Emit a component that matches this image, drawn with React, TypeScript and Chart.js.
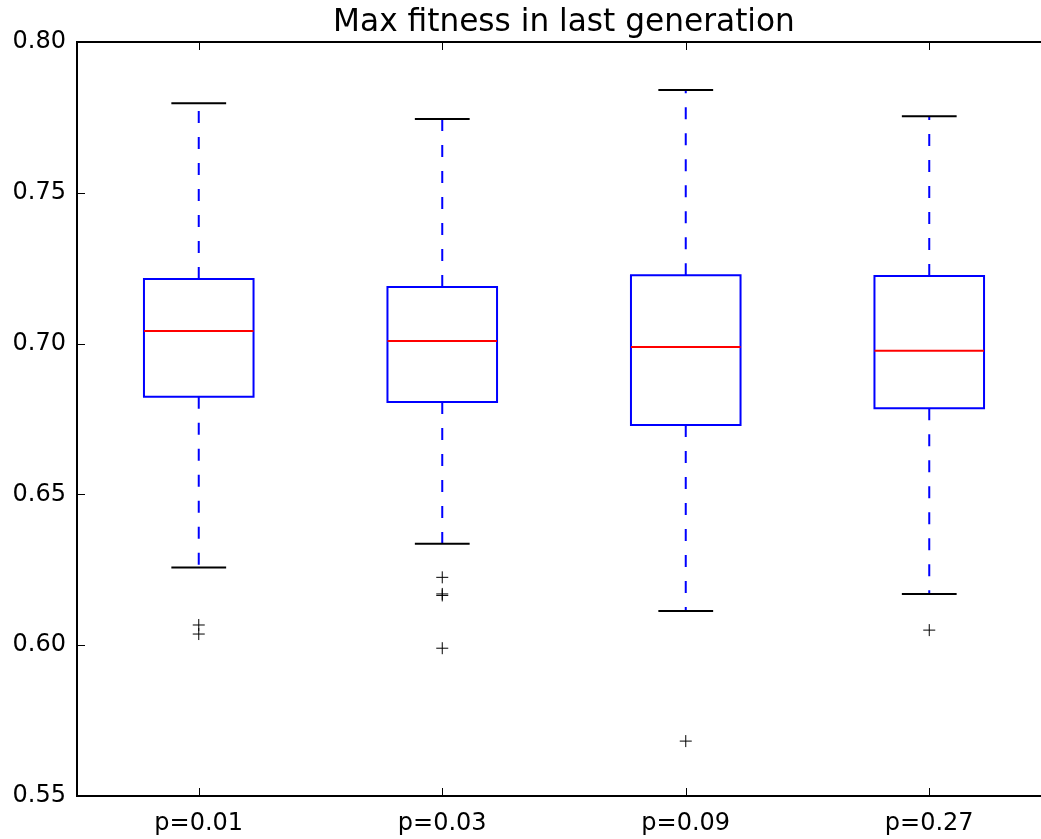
import React, { useEffect, useRef } from "react";
import { Chart, registerables } from "chart.js";

Chart.register(...registerables);

const categories = ["p=0.01", "p=0.03", "p=0.09", "p=0.27"];
const whiskerHigh = [0.7797, 0.7745, 0.7841, 0.7754];
const q3Values = [0.7214, 0.7188, 0.7227, 0.7224];
const medians = [0.7042, 0.7009, 0.6989, 0.6976];
const q1Values = [0.6824, 0.6806, 0.673, 0.6786];
const whiskerLow = [0.6258, 0.6336, 0.6113, 0.617];
const outliers = [
  [0.6067, 0.6037],
  [0.6225, 0.617, 0.6165, 0.599],
  [0.5682],
  [0.605],
];
const yTicks = [0.55, 0.6, 0.65, 0.7, 0.75, 0.8];
const titleText = "Max fitness in last generation";

const FONT = "'DejaVu Sans', 'Liberation Sans', sans-serif";
const BOX_WIDTH = 0.45;

const boxPlugin = {
  id: "boxPlugin",
  beforeDatasetsDraw(chart: any) {
    const ctx = chart.ctx;
    const xs = chart.scales.x;
    const ys = chart.scales.y;
    ctx.save();
    categories.forEach((_, i) => {
      const pos = i + 1;
      const cx = xs.getPixelForValue(pos);
      const bl = xs.getPixelForValue(pos - BOX_WIDTH / 2);
      const br = xs.getPixelForValue(pos + BOX_WIDTH / 2);
      const cl = xs.getPixelForValue(pos - BOX_WIDTH / 4);
      const cr = xs.getPixelForValue(pos + BOX_WIDTH / 4);
      const yHi = ys.getPixelForValue(whiskerHigh[i]);
      const yQ3 = ys.getPixelForValue(q3Values[i]);
      const yMed = ys.getPixelForValue(medians[i]);
      const yQ1 = ys.getPixelForValue(q1Values[i]);
      const yLo = ys.getPixelForValue(whiskerLow[i]);

      // whiskers (dashed, blue), drawn from box outward
      ctx.strokeStyle = "#0000ff";
      ctx.lineWidth = 2;
      ctx.lineCap = "butt";
      ctx.setLineDash([12, 14]);
      ctx.beginPath();
      ctx.moveTo(cx, yQ3);
      ctx.lineTo(cx, yHi);
      ctx.stroke();
      ctx.beginPath();
      ctx.moveTo(cx, yQ1);
      ctx.lineTo(cx, yLo);
      ctx.stroke();
      ctx.setLineDash([]);

      // caps
      ctx.strokeStyle = "#000000";
      ctx.beginPath();
      ctx.moveTo(cl, yHi);
      ctx.lineTo(cr, yHi);
      ctx.moveTo(cl, yLo);
      ctx.lineTo(cr, yLo);
      ctx.stroke();

      // box
      ctx.strokeStyle = "#0000ff";
      ctx.beginPath();
      ctx.rect(bl, yQ3, br - bl, yQ1 - yQ3);
      ctx.stroke();

      // median
      ctx.strokeStyle = "#ff0000";
      ctx.beginPath();
      ctx.moveTo(bl, yMed);
      ctx.lineTo(br, yMed);
      ctx.stroke();
    });
    ctx.restore();
  },
  afterDraw(chart: any) {
    const ctx = chart.ctx;
    const xs = chart.scales.x;
    const ys = chart.scales.y;
    const left = xs.getPixelForValue(0.5);
    const right = xs.getPixelForValue(4.5);
    const top = ys.getPixelForValue(0.8);
    const bottom = ys.getPixelForValue(0.55);
    ctx.save();
    // ticks (inward)
    ctx.strokeStyle = "#000000";
    ctx.lineWidth = 1;
    ctx.beginPath();
    categories.forEach((_, i) => {
      const x = Math.round(xs.getPixelForValue(i + 1)) + 0.5;
      ctx.moveTo(x, bottom);
      ctx.lineTo(x, bottom - 8);
      ctx.moveTo(x, top);
      ctx.lineTo(x, top + 8);
    });
    yTicks.forEach((v) => {
      const y = Math.round(ys.getPixelForValue(v)) + 0.5;
      ctx.moveTo(left, y);
      ctx.lineTo(left + 8, y);
      ctx.moveTo(right, y);
      ctx.lineTo(right - 8, y);
    });
    ctx.stroke();
    // frame
    ctx.lineWidth = 2;
    ctx.beginPath();
    ctx.rect(left, top, right - left, bottom - top);
    ctx.stroke();
    // title
    ctx.fillStyle = "#000000";
    ctx.font = `31.2px ${FONT}`;
    ctx.textAlign = "center";
    ctx.textBaseline = "alphabetic";
    ctx.fillText(titleText, (left + right) / 2, 31);
    ctx.restore();
  },
};

export default function App() {
  const ref = useRef<HTMLCanvasElement | null>(null);
  useEffect(() => {
    if (!ref.current) return;
    const points: { x: number; y: number }[] = [];
    outliers.forEach((arr, i) => arr.forEach((v) => points.push({ x: i + 1, y: v })));
    const chart = new Chart(ref.current, {
      type: "scatter",
      data: {
        datasets: [
          {
            label: "outliers",
            data: points,
            pointStyle: "cross",
            radius: 6,
            borderColor: "#000000",
            backgroundColor: "#000000",
            borderWidth: 1,
          } as any,
        ],
      },
      options: {
        animation: false,
        responsive: false,
        events: [],
        layout: { padding: { top: 42, right: 0, left: 0, bottom: 0 } },
        plugins: {
          legend: { display: false },
          tooltip: { enabled: false },
          title: { display: false },
        },
        scales: {
          x: {
            type: "linear",
            min: 0.5,
            max: 4.5,
            grid: { display: false },
            border: { display: false },
            afterBuildTicks: (scale: any) => {
              scale.ticks = categories.map((_, i) => ({ value: i + 1 }));
            },
            afterFit: (scale: any) => {
              scale.height = 43;
              scale.paddingLeft = 0;
              scale.paddingRight = 0;
            },
            ticks: {
              autoSkip: false,
              maxRotation: 0,
              padding: 5,
              color: "#000000",
              font: { family: FONT, size: 24 },
              callback: (v: any) => categories[Math.round(Number(v)) - 1] ?? "",
            },
          },
          y: {
            type: "linear",
            min: 0.55,
            max: 0.8,
            grid: { display: false },
            border: { display: false },
            afterBuildTicks: (scale: any) => {
              scale.ticks = yTicks.map((v) => ({ value: v }));
            },
            afterFit: (scale: any) => {
              scale.width = 77;
              scale.paddingTop = 0;
              scale.paddingBottom = 0;
            },
            ticks: {
              padding: 3,
              color: "#000000",
              font: { family: FONT, size: 24 },
              callback: (v: any) => Number(v).toFixed(2),
            },
          },
        },
      },
      plugins: [boxPlugin],
    });
    return () => chart.destroy();
  }, []);
  return (
    <div style={{ position: "absolute", left: 0, top: 0, width: 1041, height: 839, overflow: "hidden", background: "#fff" }}>
      <canvas ref={ref} width={1058} height={839} style={{ display: "block" }} />
    </div>
  );
}
